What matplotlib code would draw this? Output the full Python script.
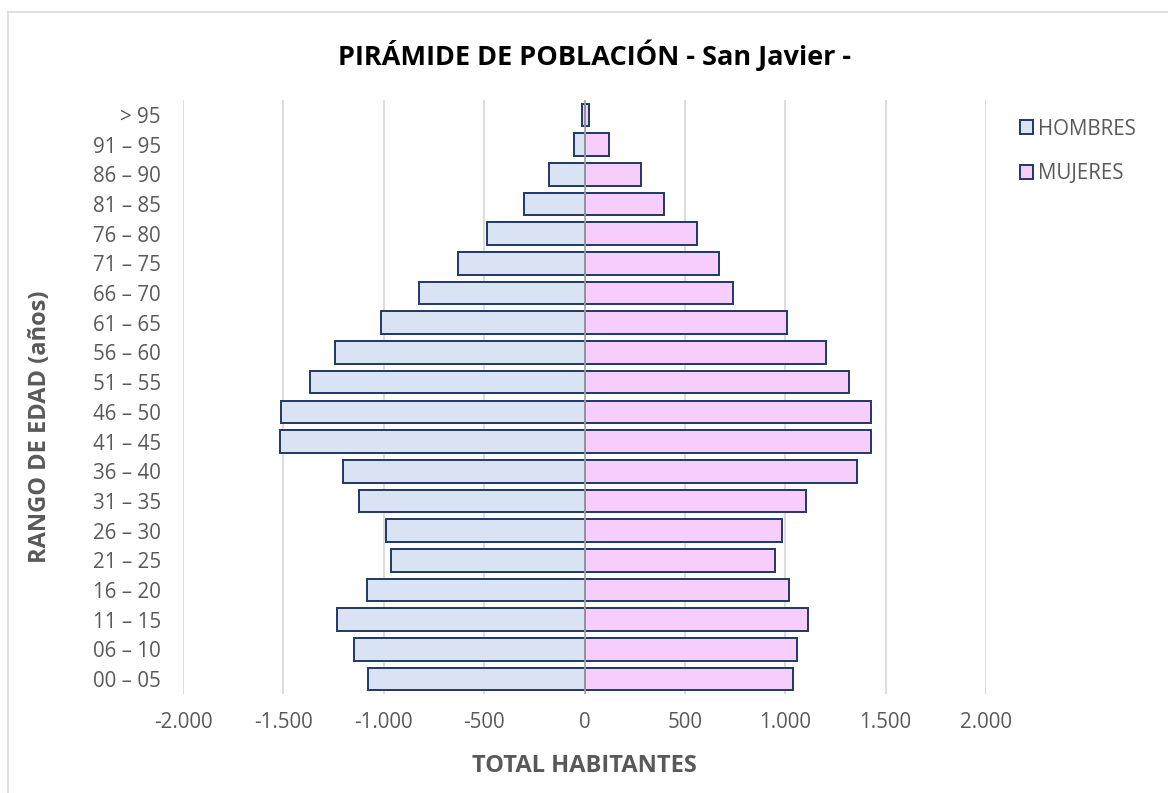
import numpy as np
import matplotlib.pyplot as plt
import matplotlib.patches as mpatches
import matplotlib.lines as mlines
from matplotlib.ticker import FuncFormatter

plt.rcParams['font.family'] = ['Open Sans', 'DejaVu Sans']

# Age groups, bottom to top
age_groups = ['00 – 05', '06 – 10', '11 – 15', '16 – 20', '21 – 25', '26 – 30',
              '31 – 35', '36 – 40', '41 – 45', '46 – 50', '51 – 55', '56 – 60',
              '61 – 65', '66 – 70', '71 – 75', '76 – 80', '81 – 85', '86 – 90',
              '91 – 95', '> 95']
hombres = [1076, 1146, 1234, 1083, 966, 987, 1123, 1201, 1518, 1514,
           1369, 1243, 1015, 823, 632, 487, 300, 176, 50, 10]
mujeres = [1038, 1061, 1113, 1017, 947, 985, 1105, 1355, 1426, 1426,
           1316, 1201, 1007, 738, 672, 560, 398, 280, 120, 23]

col_h = '#DAE3F3'
col_m = '#F7CDFC'
edge = '#1F3864'
grey_txt = '#595959'

fig = plt.figure(figsize=(11.68, 7.93), dpi=100)
ax = fig.add_axes([183/1168, 1 - 694/793, (986 - 183)/1168, (694 - 100)/793])

y = np.arange(len(age_groups))
ax.barh(y, -np.array(hombres), height=0.76, color=col_h, edgecolor=edge,
        linewidth=1.4, zorder=3, label='HOMBRES')
ax.barh(y, mujeres, height=0.76, color=col_m, edgecolor=edge,
        linewidth=1.4, zorder=3, label='MUJERES')
ax.axvline(0, color='#A6A6A6', linewidth=1.2, zorder=4)

ax.set_xlim(-2000, 2000)
ax.set_ylim(-0.5, len(age_groups) - 0.5)
ax.set_xticks(np.arange(-2000, 2001, 500))
ax.xaxis.set_major_formatter(FuncFormatter(lambda v, p: f'{int(v):,}'.replace(',', '.')))
ax.set_yticks(y)
ax.set_yticklabels(age_groups)
ax.tick_params(length=0, labelsize=14.8, colors=grey_txt)
ax.tick_params(axis='x', pad=13)
ax.tick_params(axis='y', pad=16)
ax.grid(axis='x', color='#D9D9D9', linewidth=1.3, zorder=0)
ax.set_axisbelow(True)
for s in ax.spines.values():
    s.set_visible(False)

fig.text(594/1168, 1 - 55/793, 'PIRÁMIDE DE POBLACIÓN - San Javier -', ha='center',
         va='center', fontsize=19.5, fontweight='bold', color='black')
fig.text(584/1168, 1 - 766/793, 'TOTAL HABITANTES', ha='center', va='center',
         fontsize=17, fontweight='bold', color=grey_txt)
fig.text(40/1168, 1 - 427/793, 'RANGO DE EDAD (años)', ha='center', va='center',
         rotation=90, fontsize=17, fontweight='bold', color=grey_txt)

handles = [mpatches.Patch(facecolor=col_h, edgecolor=edge, linewidth=1.4, label='HOMBRES'),
           mpatches.Patch(facecolor=col_m, edgecolor=edge, linewidth=1.4, label='MUJERES')]
leg = fig.legend(handles=handles, loc='upper left', bbox_to_anchor=(1001/1168, 1 - 100/793),
                 frameon=False, fontsize=14.8, handlelength=0.65, handleheight=0.65,
                 handletextpad=0.25, labelspacing=1.15)
for t in leg.get_texts():
    t.set_color(grey_txt)

# light border round the chart area (top and left edges visible)
fig.add_artist(mlines.Line2D([8/1168, 1], [1 - 12/793, 1 - 12/793], transform=fig.transFigure,
                             color='#D9D9D9', linewidth=1.2))
fig.add_artist(mlines.Line2D([8/1168, 8/1168], [0, 1 - 12/793], transform=fig.transFigure,
                             color='#D9D9D9', linewidth=1.2))

fig.savefig('out.png', dpi=100)
